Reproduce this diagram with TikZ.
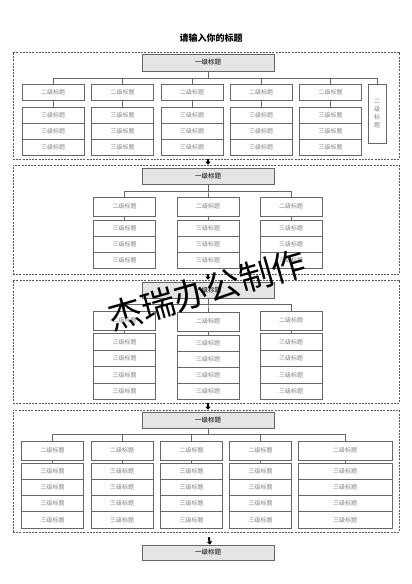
\documentclass[tikz,border=0pt]{standalone}
\usepackage{fontspec}
\newfontfamily\cjk{Noto Sans CJK SC}
\usetikzlibrary{arrows.meta}

\begin{document}
\begin{tikzpicture}[
  x=1pt, y=-1pt,
  every node/.style={inner sep=0pt, font=\cjk\fontsize{6}{7}\selectfont},
  frame/.style={draw=black!65, dash pattern=on 2pt off 1.2pt, line width=0.6pt, minimum width=386},
  head/.style={draw=black!60, line width=0.8pt, fill=black!10, minimum width=132, minimum height=16, font=\cjk\fontsize{6.5}{8}\selectfont},
  sub/.style={draw=black!60, line width=0.8pt, minimum width=62, minimum height=19, text=black!50},
  leaf/.style={draw=black!60, line width=0.8pt, minimum width=62, minimum height=16, text=black!50},
  link/.style={draw=black!60, line width=0.6pt},
  flow/.style={-{Triangle[width=5pt,length=3pt]}, line width=2pt, black}
  ]
  \useasboundingbox (0,0) rectangle (412,584);

  % Title
  \node (title) at (211,38) {\fontsize{9}{10}\selectfont\bfseries 请输入你的标题};

  % Section 1
  \node[frame, minimum height=107] (f1) at (206,105.5) {};
  \node[head, minimum height=17] (t1) at (208,62.5) {一级标题};

  \node[sub, minimum height=16] (s11) at (53,92) {二级标题};
  \node[sub, minimum height=16] (s12) at (122.5,92) {二级标题};
  \node[sub, minimum height=16] (s13) at (192,92) {二级标题};
  \node[sub, minimum height=16] (s14) at (261,92) {二级标题};
  \node[sub, minimum height=16] (s15) at (330.5,92) {二级标题};
  \node[sub, minimum width=18, minimum height=59, align=center, font=\cjk\fontsize{6}{8}\selectfont] (s16) at (377,113.5) {二\\级\\标\\题};

  \node[leaf] (s11r1) at (53,115) {三级标题};
  \node[leaf] (s11r2) at (53,131) {三级标题};
  \node[leaf] (s11r3) at (53,147) {三级标题};
  \node[leaf] (s12r1) at (122.5,115) {三级标题};
  \node[leaf] (s12r2) at (122.5,131) {三级标题};
  \node[leaf] (s12r3) at (122.5,147) {三级标题};
  \node[leaf] (s13r1) at (192,115) {三级标题};
  \node[leaf] (s13r2) at (192,131) {三级标题};
  \node[leaf] (s13r3) at (192,147) {三级标题};
  \node[leaf] (s14r1) at (261,115) {三级标题};
  \node[leaf] (s14r2) at (261,131) {三级标题};
  \node[leaf] (s14r3) at (261,147) {三级标题};
  \node[leaf] (s15r1) at (330.5,115) {三级标题};
  \node[leaf] (s15r2) at (330.5,131) {三级标题};
  \node[leaf] (s15r3) at (330.5,147) {三级标题};

  \draw[link] (t1.south) -- ++(0,7) -| (s11.north);
  \draw[link] (t1.south) -- ++(0,7) -| (s12.north);
  \draw[link] (t1.south) -- ++(0,7) -| (s13.north);
  \draw[link] (t1.south) -- ++(0,7) -| (s14.north);
  \draw[link] (t1.south) -- ++(0,7) -| (s15.north);
  \draw[link] (t1.south) -- ++(0,7) -| (s16.north);
  \draw[link] (s11.south) -- (s11r1.north);
  \draw[link] (s12.south) -- (s12r1.north);
  \draw[link] (s13.south) -- (s13r1.north);
  \draw[link] (s14.south) -- (s14r1.north);
  \draw[link] (s15.south) -- (s15r1.north);

  % Section 2
  \node[frame, minimum height=109] (f2) at (206,219.5) {};
  \node[head] (t2) at (208,176) {一级标题};

  \node[sub] (s21) at (124.5,206.5) {二级标题};
  \node[sub] (s22) at (208,206.5) {二级标题};
  \node[sub] (s23) at (291,206.5) {二级标题};

  \node[leaf] (s21r1) at (124.5,228) {三级标题};
  \node[leaf] (s21r2) at (124.5,244) {三级标题};
  \node[leaf] (s21r3) at (124.5,260) {三级标题};
  \node[leaf] (s22r1) at (208,228) {三级标题};
  \node[leaf] (s22r2) at (208,244) {三级标题};
  \node[leaf] (s22r3) at (208,260) {三级标题};
  \node[leaf] (s23r1) at (291,228) {三级标题};
  \node[leaf] (s23r2) at (291,244) {三级标题};
  \node[leaf] (s23r3) at (291,260) {三级标题};

  \draw[link] (t2.south) -- ++(0,7) -| (s21.north);
  \draw[link] (t2.south) -- ++(0,7) -| (s22.north);
  \draw[link] (t2.south) -- ++(0,7) -| (s23.north);
  \draw[link] (s21.south) -- (s21r1.north);
  \draw[link] (s22.south) -- (s22r1.north);
  \draw[link] (s23.south) -- (s23r1.north);

  % Section 3
  \node[frame, minimum height=123] (f3) at (206,341.5) {};
  \node[head] (t3) at (208,290) {一级标题};

  \node[sub] (s31) at (124.5,320.5) {二级标题};
  \node[sub] (s32) at (208,321.5) {二级标题};
  \node[sub] (s33) at (291,320.5) {二级标题};

  \node[leaf, minimum height=16.5] (s31r1) at (124.5,341.75) {三级标题};
  \node[leaf, minimum height=16.5] (s31r2) at (124.5,358.25) {三级标题};
  \node[leaf, minimum height=16.5] (s31r3) at (124.5,374.75) {三级标题};
  \node[leaf, minimum height=16.5] (s31r4) at (124.5,391.25) {三级标题};
  \node[leaf, minimum height=16] (s32r1) at (208,343) {三级标题};
  \node[leaf, minimum height=16] (s32r2) at (208,359) {三级标题};
  \node[leaf, minimum height=16] (s32r3) at (208,375) {三级标题};
  \node[leaf, minimum height=16] (s32r4) at (208,391) {三级标题};
  \node[leaf, minimum height=16.5] (s33r1) at (291,341.75) {三级标题};
  \node[leaf, minimum height=16.5] (s33r2) at (291,358.25) {三级标题};
  \node[leaf, minimum height=16.5] (s33r3) at (291,374.75) {三级标题};
  \node[leaf, minimum height=16.5] (s33r4) at (291,391.25) {三级标题};

  \draw[link] (t3.south) -- ++(0,6) -| (s31.north);
  \draw[link] (t3.south) -- ++(0,6) -| (s32.north);
  \draw[link] (t3.south) -- ++(0,6) -| (s33.north);
  \draw[link] (s31.south) -- (s31r1.north);
  \draw[link] (s32.south) -- (s32r1.north);
  \draw[link] (s33.south) -- (s33r1.north);

  % Section 4
  \node[frame, minimum height=122] (f4) at (206,471) {};
  \node[head] (t4) at (208,420) {一级标题};

  \node[sub] (s41) at (52.5,450.5) {二级标题};
  \node[sub] (s42) at (122,450.5) {二级标题};
  \node[sub] (s43) at (191.5,450.5) {二级标题};
  \node[sub] (s44) at (260.5,450.5) {二级标题};
  \node[sub, minimum width=94] (s45) at (345,450.5) {二级标题};

  \node[leaf, minimum height=16.25] (s41r1) at (52.5,471.1) {三级标题};
  \node[leaf, minimum height=16.25] (s41r2) at (52.5,487.4) {三级标题};
  \node[leaf, minimum height=16.25] (s41r3) at (52.5,503.6) {三级标题};
  \node[leaf, minimum height=16.25] (s41r4) at (52.5,519.9) {三级标题};
  \node[leaf, minimum height=16.25] (s42r1) at (122,471.1) {三级标题};
  \node[leaf, minimum height=16.25] (s42r2) at (122,487.4) {三级标题};
  \node[leaf, minimum height=16.25] (s42r3) at (122,503.6) {三级标题};
  \node[leaf, minimum height=16.25] (s42r4) at (122,519.9) {三级标题};
  \node[leaf, minimum height=16.25] (s43r1) at (191.5,471.1) {三级标题};
  \node[leaf, minimum height=16.25] (s43r2) at (191.5,487.4) {三级标题};
  \node[leaf, minimum height=16.25] (s43r3) at (191.5,503.6) {三级标题};
  \node[leaf, minimum height=16.25] (s43r4) at (191.5,519.9) {三级标题};
  \node[leaf, minimum height=16.25] (s44r1) at (260.5,471.1) {三级标题};
  \node[leaf, minimum height=16.25] (s44r2) at (260.5,487.4) {三级标题};
  \node[leaf, minimum height=16.25] (s44r3) at (260.5,503.6) {三级标题};
  \node[leaf, minimum height=16.25] (s44r4) at (260.5,519.9) {三级标题};
  \node[leaf, minimum height=16.25, minimum width=94] (s45r1) at (345,471.1) {三级标题};
  \node[leaf, minimum height=16.25, minimum width=94] (s45r2) at (345,487.4) {三级标题};
  \node[leaf, minimum height=16.25, minimum width=94] (s45r3) at (345,503.6) {三级标题};
  \node[leaf, minimum height=16.25, minimum width=94] (s45r4) at (345,519.9) {三级标题};

  \draw[link] (t4.south) -- ++(0,6) -| (s41.north);
  \draw[link] (t4.south) -- ++(0,6) -| (s42.north);
  \draw[link] (t4.south) -- ++(0,6) -| (s43.north);
  \draw[link] (t4.south) -- ++(0,6) -| (s44.north);
  \draw[link] (t4.south) -- ++(0,6) -| (s45.north);
  \draw[link] (s41.south) -- (s41r1.north);
  \draw[link] (s42.south) -- (s42r1.north);
  \draw[link] (s43.south) -- (s43r1.north);
  \draw[link] (s44.south) -- (s44r1.north);
  \draw[link] (s45.south) -- (s45r1.north);

  % Last box
  \node[head, minimum height=15] (t5) at (208,552.5) {一级标题};

  % Arrows between sections
  \draw[flow] ([xshift=2pt]f1.south) -- ([xshift=2pt]f2.north);
  \draw[flow] ([xshift=2pt]f2.south) -- ([xshift=2pt]f3.north);
  \draw[flow] ([xshift=2pt]f3.south) -- ([xshift=2pt]f4.north);
  \draw[flow, shorten <=5pt] ([xshift=2pt]f4.south) -- ([xshift=2pt]t5.north);

  % Watermark
  \node[rotate=16, font=\cjk\fontsize{34}{36}\selectfont] (mark) at (207,290) {杰瑞办公制作};

\end{tikzpicture}
\end{document}
